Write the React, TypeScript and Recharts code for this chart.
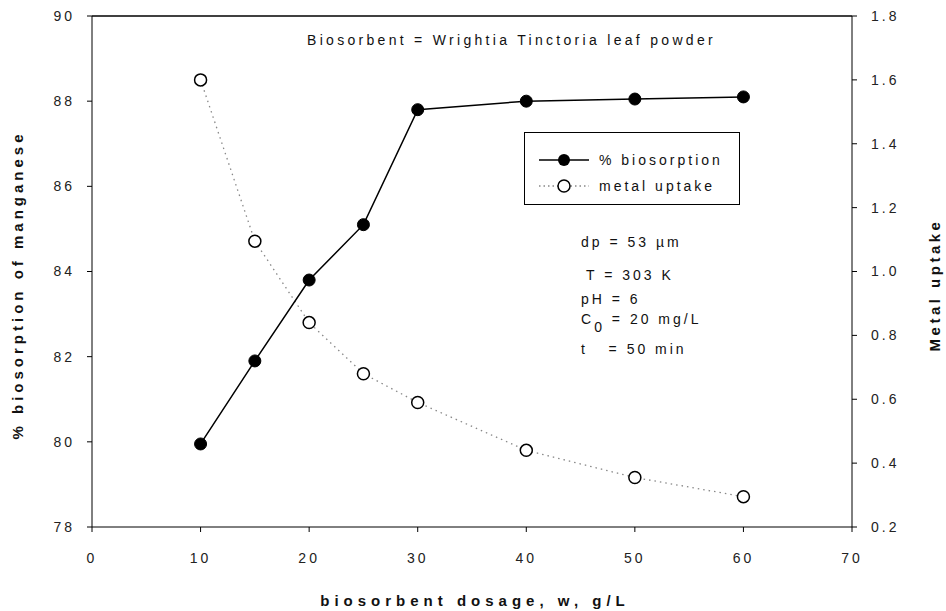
import React from 'react';
import { ComposedChart, Line, XAxis, YAxis, Legend, ReferenceLine, Customized } from 'recharts';

const dosage = [10, 15, 20, 25, 30, 40, 50, 60];
const biosorption = [79.95, 81.9, 83.8, 85.1, 87.8, 88.0, 88.05, 88.1];
const uptake = [1.6, 1.095, 0.84, 0.68, 0.59, 0.44, 0.355, 0.295];

const xTicks = [0, 10, 20, 30, 40, 50, 60, 70];
const leftTicks = [78, 80, 82, 84, 86, 88, 90];
const rightTicks = [0.2, 0.4, 0.6, 0.8, 1.0, 1.2, 1.4, 1.6, 1.8];

const data = dosage.map((w, i) => ({ w, pct: biosorption[i], q: uptake[i] }));

const FONT = '"Liberation Sans", Arial, sans-serif';
const tickStyle = { fontFamily: FONT, fontSize: 14, letterSpacing: 3, fill: '#222' };
const textStyle = { fontFamily: FONT, fontSize: 14, letterSpacing: 3, fill: '#111' };
const titleStyle = { fontFamily: FONT, fontSize: 15, fontWeight: 700, letterSpacing: 4, fill: '#111' };

const LegendBox = () => (
  <div
    style={{
      border: '1.5px solid #000',
      width: 216,
      height: 73,
      boxSizing: 'border-box',
      background: '#fff',
      fontFamily: FONT,
      fontSize: 14,
      letterSpacing: 3,
      color: '#111',
      paddingTop: 14,
    }}
  >
    <div style={{ display: 'flex', alignItems: 'center', height: 26 }}>
      <svg width={62} height={16} style={{ marginLeft: 12 }}>
        <line x1={2} y1={8} x2={52} y2={8} stroke="#000" strokeWidth={1.5} />
        <circle cx={27} cy={8} r={6} fill="#000" />
      </svg>
      <span>% biosorption</span>
    </div>
    <div style={{ display: 'flex', alignItems: 'center', height: 26 }}>
      <svg width={62} height={16} style={{ marginLeft: 12 }}>
        <line x1={2} y1={8} x2={52} y2={8} stroke="#888" strokeWidth={1.3} strokeDasharray="1.5 3" />
        <circle cx={27} cy={8} r={6} fill="#fff" stroke="#000" strokeWidth={1.5} />
      </svg>
      <span>metal uptake</span>
    </div>
  </div>
);

const Notes = () => (
  <g>
    <text x={307} y={45} style={{ ...textStyle, letterSpacing: 3.3 }}>Biosorbent = Wrightia Tinctoria leaf powder</text>
    <text x={581} y={247} style={textStyle}>dp = 53 {'\u00b5'}m</text>
    <text x={586} y={280} style={textStyle}>T = 303 K</text>
    <text x={581} y={304} style={textStyle}>pH = 6</text>
    <text x={581} y={324} style={textStyle}>
      C<tspan dy={8}>0</tspan><tspan dy={-8}> = 20 mg/L</tspan>
    </text>
    <text x={581} y={354} style={textStyle}>t{'\u00a0\u00a0\u00a0'}= 50 min</text>
    <text x={475} y={606} textAnchor="middle" style={{ ...titleStyle, letterSpacing: 5 }}>biosorbent dosage, w, g/L</text>
    <text transform="translate(23, 285) rotate(-90)" textAnchor="middle" style={titleStyle}>% biosorption of manganese</text>
    <text transform="translate(940, 285) rotate(-90)" textAnchor="middle" style={{ ...titleStyle, letterSpacing: 3.5 }}>Metal uptake</text>
  </g>
);

export default function App() {
  return (
    <div style={{ position: 'absolute', left: 0, top: 0, width: 946, height: 611, background: '#fff' }}>
      <ComposedChart width={946} height={611} data={data} margin={{ top: 16, right: 0, bottom: 0, left: 0 }}>
        <XAxis
          type="number"
          dataKey="w"
          domain={[0, 70]}
          ticks={xTicks}
          height={84}
          tickSize={5}
          tickMargin={21}
          stroke="#000"
          tick={tickStyle}
        />
        <YAxis
          yAxisId="left"
          domain={[78, 90]}
          ticks={leftTicks}
          width={92}
          tickSize={5}
          tickMargin={12}
          stroke="#000"
          tick={tickStyle}
        />
        <YAxis
          yAxisId="right"
          orientation="right"
          domain={[0.2, 1.8]}
          ticks={rightTicks}
          tickFormatter={(v: number) => v.toFixed(1)}
          width={94}
          tickSize={5}
          tickMargin={14}
          stroke="#000"
          tick={tickStyle}
        />
        <ReferenceLine yAxisId="left" y={90} stroke="#000" strokeWidth={1.5} />
        <Line
          yAxisId="right"
          dataKey="q"
          type="linear"
          stroke="#888"
          strokeWidth={1.3}
          strokeDasharray="1.5 4"
          dot={{ r: 6, fill: '#fff', stroke: '#000', strokeWidth: 1.5, strokeDasharray: '' }}
          isAnimationActive={false}
        />
        <Line
          yAxisId="left"
          dataKey="pct"
          type="linear"
          stroke="#000"
          strokeWidth={1.5}
          dot={{ r: 6, fill: '#000', stroke: '#000', strokeWidth: 1 }}
          isAnimationActive={false}
        />
        <Legend
          layout="vertical"
          align="center"
          verticalAlign="middle"
          content={() => <LegendBox />}
          wrapperStyle={{ position: 'absolute', left: 524, top: 132, width: 216, height: 73 }}
        />
        <Customized component={Notes} />
      </ComposedChart>
    </div>
  );
}
